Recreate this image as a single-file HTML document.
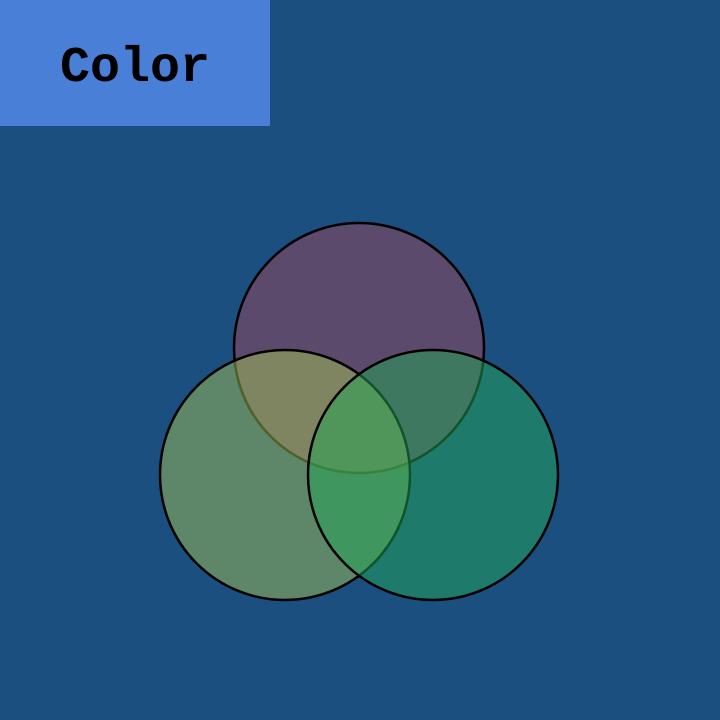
<!DOCTYPE html>
<html><head><meta charset="utf-8"><style>
html,body{margin:0;padding:0;width:720px;height:720px;overflow:hidden;background:#1b4f80;}
#title{position:absolute;left:0;top:0;width:270px;height:126px;background:#4a7fd8;display:flex;align-items:center;justify-content:center;font-family:"Liberation Mono",monospace;font-weight:bold;font-size:50px;color:#000;box-sizing:border-box;padding-top:10px;}
svg{position:absolute;left:0;top:0;}
</style></head><body>
<div id="title">Color</div>
<svg id="chart" width="720" height="720"></svg>
<script>
const setNames = ['A','B','C'];
const setSizes = [1,1,1];
const setColors = ['#9d4558','#a1bf54','#21a554'];
const cx = 359, cy = 412, baseR = 125;
const layout = [[0,-64],[-74,63],[74,63]];
const svg = document.getElementById('chart');
const ns = 'http://www.w3.org/2000/svg';
setNames.forEach((n,i)=>{
  const c = document.createElementNS(ns,'circle');
  c.setAttribute('cx', cx + layout[i][0]);
  c.setAttribute('cy', cy + layout[i][1]);
  c.setAttribute('r', baseR*Math.sqrt(setSizes[i]));
  c.setAttribute('fill', setColors[i]);
  c.setAttribute('fill-opacity', '0.5');
  c.setAttribute('stroke', '#000');
  c.setAttribute('stroke-width', '2.5');
  
  
  svg.appendChild(c);
});
</script>
</body></html>
